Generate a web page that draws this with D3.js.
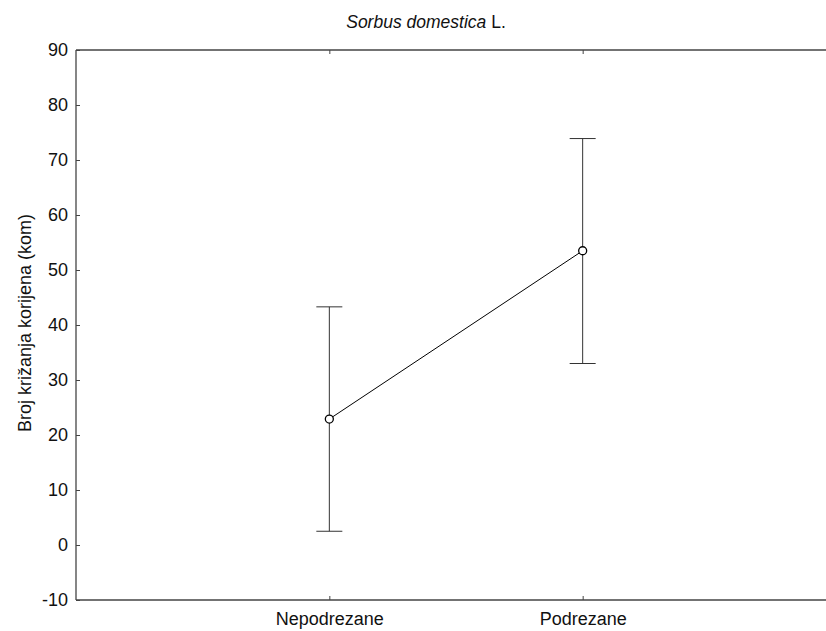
<!DOCTYPE html>
<html><head><meta charset="utf-8">
<script src="https://cdn.jsdelivr.net/npm/d3@7/dist/d3.min.js"></script>
<style>body{margin:0;background:#fff}svg{display:block;font-family:"Liberation Sans",Arial,sans-serif}</style>
</head><body>
<svg id="c" width="826" height="631"></svg>
<script>
const categories = ["Nepodrezane", "Podrezane"];
const means = [22.9, 53.5];
const upper = [43.3, 73.9];
const lower = [2.5, 33.0];
const yTicks = [-10, 0, 10, 20, 30, 40, 50, 60, 70, 80, 90];

(function () {
const svg = d3.select("#c");
const pLeft = 76, pTop = 50, pBottom = 600, pRight = 836;
const FS = 18;
const y = d3.scaleLinear().domain([-10, 90]).range([pBottom, pTop]);
const x = d3.scalePoint().domain(categories).range([pLeft, pRight]).padding(1);

// frame
const frame = svg.append("g").attr("stroke", "#444").attr("stroke-width", 1.3).attr("fill", "none");
frame.append("line").attr("x1", pLeft).attr("x2", 826).attr("y1", pTop).attr("y2", pTop);
frame.append("line").attr("x1", pLeft).attr("x2", 826).attr("y1", pBottom).attr("y2", pBottom);
frame.append("line").attr("x1", pLeft).attr("x2", pLeft).attr("y1", pTop).attr("y2", pBottom);

// y axis
const ya = svg.append("g").attr("transform", `translate(${pLeft},0)`)
  .call(d3.axisLeft(y).tickValues(yTicks).tickSize(-4).tickPadding(8).tickFormat(d => String(d)));
ya.select(".domain").remove();
ya.selectAll("line").attr("stroke", "#444");
ya.selectAll("text").attr("font-size", FS).attr("fill", "#111").attr("font-family", "Liberation Sans, Arial, sans-serif");

// x axis bottom
const xa = svg.append("g").attr("transform", `translate(0,${pBottom})`)
  .call(d3.axisBottom(x).tickSize(-4).tickPadding(12));
xa.select(".domain").remove();
xa.selectAll("line").attr("stroke", "#444");
xa.selectAll("text").attr("font-size", FS).attr("fill", "#111").attr("font-family", "Liberation Sans, Arial, sans-serif");

// x axis top ticks
const xt = svg.append("g").attr("transform", `translate(0,${pTop})`)
  .call(d3.axisTop(x).tickSize(-4).tickFormat(""));
xt.select(".domain").remove();
xt.selectAll("line").attr("stroke", "#444");

// error bars
const g = svg.append("g");
categories.forEach((c, i) => {
  const cx = x(c);
  g.append("line").attr("x1", cx).attr("x2", cx).attr("y1", y(upper[i])).attr("y2", y(lower[i])).attr("stroke", "#333").attr("stroke-width", 1);
  [upper[i], lower[i]].forEach(v => {
    g.append("line").attr("x1", cx - 13).attr("x2", cx + 13).attr("y1", y(v)).attr("y2", y(v)).attr("stroke", "#333").attr("stroke-width", 1);
  });
});

// mean line
const line = d3.line().x((d, i) => x(categories[i])).y(d => y(d));
svg.append("path").datum(means).attr("d", line).attr("fill", "none").attr("stroke", "#000").attr("stroke-width", 1);

svg.append("g").selectAll("circle").data(means).join("circle")
  .attr("cx", (d, i) => x(categories[i])).attr("cy", d => y(d)).attr("r", 4)
  .attr("fill", "#fff").attr("stroke", "#000").attr("stroke-width", 1.3);

// title
const t = svg.append("text").attr("x", 426).attr("y", 28).attr("text-anchor", "middle").attr("font-size", 17.5).attr("fill", "#111");
t.append("tspan").attr("font-style", "italic").text("Sorbus domestica");
t.append("tspan").text(" L.");

// y label
svg.append("text").attr("transform", `translate(31,323) rotate(-90)`)
  .attr("text-anchor", "middle").attr("font-size", FS).attr("fill", "#111").text("Broj križanja korijena (kom)");
})();
</script>
</body></html>
